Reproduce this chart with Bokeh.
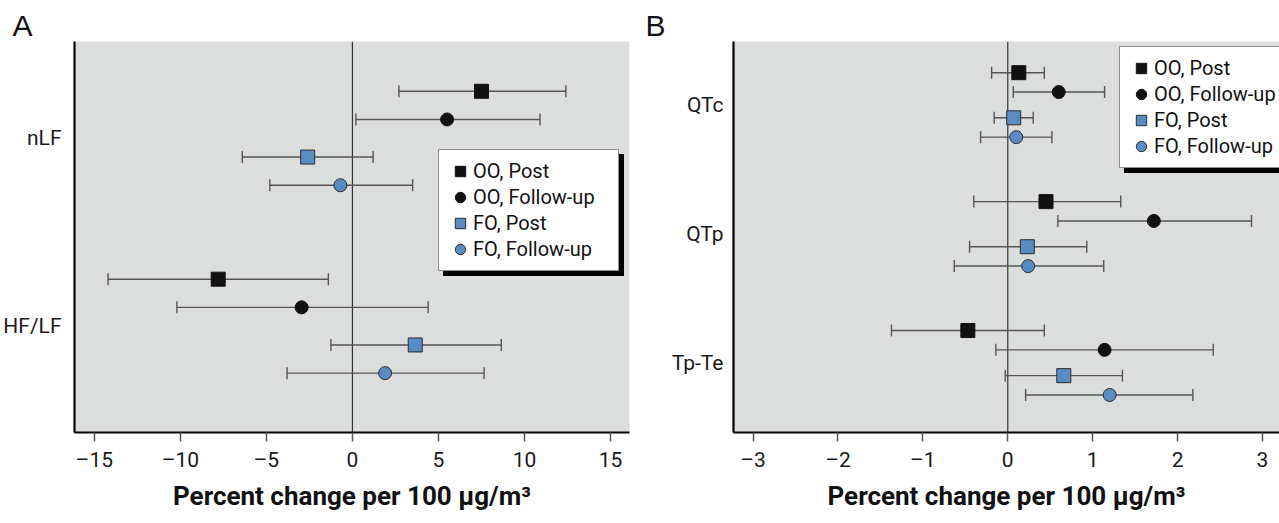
from bokeh.plotting import figure
from bokeh.models import (Range1d, FixedTicker, Span, Whisker, TeeHead, Legend,
                          LegendItem, ColumnDataSource)
from bokeh.layouts import row
from bokeh.embed import file_html
from bokeh.resources import INLINE

# ---------------- data ----------------
series = ["OO, Post", "OO, Follow-up", "FO, Post", "FO, Follow-up"]

a_categories = ["nLF", "HF/LF"]
a_est = [[7.5, -7.8], [5.5, -2.95], [-2.6, 3.65], [-0.7, 1.9]]
a_lo = [[2.7, -14.2], [0.2, -10.2], [-6.4, -1.25], [-4.8, -3.8]]
a_hi = [[12.4, -1.4], [10.9, 4.4], [1.2, 8.65], [3.5, 7.65]]
a_ticks = [-15, -10, -5, 0, 5, 10, 15]

b_categories = ["QTc", "QTp", "Tp-Te"]
b_est = [[0.13, 0.45, -0.47], [0.60, 1.72, 1.14], [0.07, 0.23, 0.66], [0.10, 0.24, 1.20]]
b_lo = [[-0.19, -0.40, -1.37], [0.065, 0.59, -0.14], [-0.16, -0.45, -0.03], [-0.32, -0.63, 0.21]]
b_hi = [[0.43, 1.33, 0.43], [1.14, 2.87, 2.42], [0.30, 0.93, 1.35], [0.52, 1.13, 2.18]]
b_ticks = [-3, -2, -1, 0, 1, 2, 3]

xlabel = "Percent change per 100 µg/m³"

# ---------------- style ----------------
FONT = "Roboto"
BG = "#dcdedd"
BLUE = "#5a8cc4"
markers = ["square", "circle", "square", "circle"]
fills = ["#111111", "#111111", BLUE, BLUE]
lines = ["#111111", "#111111", "#2b2b2b", "#2b2b2b"]
sizes = [14, 13, 14, 13]
offsets = [0.25, 0.1, -0.1, -0.25]


def panel(letter, letter_offset, cats, est, lo, hi, ticks, xr, yr, width, height,
          bl, bt, bb, br, standoff, s1, s2, leg_xy):
    p = figure(width=width, height=height, output_backend="svg",
               toolbar_location=None, x_range=Range1d(*xr), y_range=Range1d(*yr),
               min_border_left=bl, min_border_top=bt, min_border_bottom=bb,
               min_border_right=br)
    p.background_fill_color = BG
    p.border_fill_color = "white"
    p.outline_line_color = None
    p.xgrid.visible = False
    p.ygrid.visible = False

    p.title.text = letter
    p.title.align = "left"
    p.title.offset = letter_offset
    p.title.standoff = 0
    p.title.text_font = "Liberation Sans"
    p.title.text_font_size = "30px"
    p.title.text_font_style = "normal"
    p.title.text_color = "#111111"

    p.add_layout(Span(location=0, dimension="height", line_color="#333333",
                      line_width=1.2, level="underlay"))

    n = len(cats)
    renderers = []
    for s in range(len(series)):
        ys = [n - i + offsets[s] for i in range(n)]
        src = ColumnDataSource(dict(x=est[s], y=ys, lo=lo[s], hi=hi[s]))
        w = Whisker(base="y", lower="lo", upper="hi", dimension="width",
                    source=src, line_color="#555555", line_width=1.4,
                    level="underlay",
                    lower_head=TeeHead(size=12, line_color="#555555", line_width=1.4),
                    upper_head=TeeHead(size=12, line_color="#555555", line_width=1.4))
        p.add_layout(w)
        r = p.scatter(x="x", y="y", source=src, marker=markers[s], size=sizes[s],
                      fill_color=fills[s], line_color=lines[s], line_width=1)
        renderers.append(r)

    # axes
    p.xaxis.ticker = FixedTicker(ticks=ticks)
    p.xaxis.major_label_overrides = {float(t): (("–" + str(abs(t))) if t < 0 else str(t)) for t in ticks}
    p.xaxis.axis_line_width = 2.2
    p.xaxis.axis_line_color = "black"
    p.xaxis.major_tick_line_color = "#555555"
    p.xaxis.major_tick_line_width = 1.5
    p.xaxis.major_tick_out = 9
    p.xaxis.major_tick_in = 0
    p.xaxis.minor_tick_line_color = None
    p.xaxis.major_label_standoff = s1
    p.xaxis.major_label_text_font = FONT
    p.xaxis.major_label_text_font_size = "21px"
    p.xaxis.major_label_text_color = "#1a1a1a"
    p.xaxis.axis_label = xlabel
    p.xaxis.axis_label_text_font = FONT
    p.xaxis.axis_label_text_font_size = "26px"
    p.xaxis.axis_label_text_font_style = "bold"
    p.xaxis.axis_label_text_color = "#111111"
    p.xaxis.axis_label_standoff = s2

    p.yaxis.ticker = FixedTicker(ticks=[n - i for i in range(n)])
    p.yaxis.major_label_overrides = {float(n - i): c for i, c in enumerate(cats)}
    p.yaxis.axis_line_width = 2.2
    p.yaxis.axis_line_color = "black"
    p.yaxis.major_tick_line_color = None
    p.yaxis.major_tick_out = 0
    p.yaxis.major_tick_in = 0
    p.yaxis.minor_tick_line_color = None
    p.yaxis.minor_tick_out = 0
    p.yaxis.major_label_standoff = standoff
    p.yaxis.major_label_text_font = FONT
    p.yaxis.major_label_text_font_size = "21px"
    p.yaxis.major_label_text_color = "#1a1a1a"

    # legend with a drop shadow (shadow = same-size black legend behind)
    common = dict(padding=8, spacing=0, glyph_width=26, glyph_height=26,
                  label_height=26, label_width=137, label_standoff=-3, margin=0,
                  label_text_font=FONT, label_text_font_size="20px",
                  border_line_width=1.2)
    shadow = Legend(items=[LegendItem(label=" ", renderers=[renderers[s]])
                           for s in range(len(series))],
                    location=(leg_xy[0] + 5, leg_xy[1] - 5),
                    background_fill_color="black", background_fill_alpha=1,
                    border_line_color="black", label_text_color="black", **common)
    leg = Legend(items=[LegendItem(label=series[s], renderers=[renderers[s]])
                        for s in range(len(series))],
                 location=leg_xy, background_fill_color="white",
                 background_fill_alpha=1, border_line_color="#222222",
                 label_text_color="#111111", **common)
    p.add_layout(shadow, "center")
    p.add_layout(leg, "center")
    return p


# frames of the two panels are aligned by the row: both span y 41..432
pa = panel("A", -62, a_categories, a_est, a_lo, a_hi, a_ticks, (-16.15, 16.1),
           (0.434, 2.515), 640, 522, 73, 41, 90, 11, 13, 6, 6, (364, 161))
pb = panel("B", -88, b_categories, b_est, b_lo, b_hi, b_ticks, (-3.23, 3.2),
           (0.459, 3.492), 639, 522, 93, 41, 90, 0, 10, 6, 6, (386, 264))

layout = row(pa, pb)
open("out.html", "w").write(file_html(layout, INLINE))
